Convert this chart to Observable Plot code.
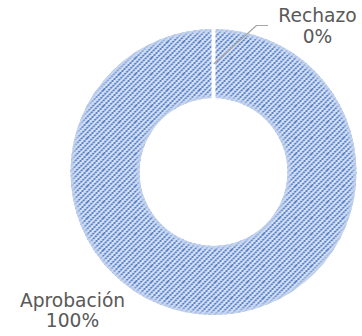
<!DOCTYPE html>
<html><head><meta charset="utf-8">
<script src="https://cdn.jsdelivr.net/npm/d3@7"></script>
<script src="https://cdn.jsdelivr.net/npm/@observablehq/plot@0.6"></script>
<style>html,body{margin:0;padding:0;background:#fff;}</style>
</head><body><div id="chart"></div>
<script>
// ---- data ----
const categories = ["Aprobación", "Rechazo"];
const values = [100, 0];
const percentLabels = ["100%", "0%"];

// ---- layout (pixels, origin at donut centre, y up) ----
const W = 362, H = 336;
const CX = 213.5, CY = 172;
const R_OUT = 143, R_IN = 74;
const labelLayout = { "Aprobación": [-141.5, -119.2], "Rechazo": [103.5, 164.9] };
const leaderLayout = { "Rechazo": { r: 109, elbow: [42.5, 147], end: [53.5, 147] } };

const pie = d3.pie().sort(null).value(d => d.value);
const slices = pie(categories.map((c, i) => ({ category: c, value: values[i], pct: percentLabels[i] })));

const labelData = slices.map(s => ({
  text: s.data.category + "\n" + s.data.pct,
  x: labelLayout[s.data.category][0],
  y: labelLayout[s.data.category][1]
}));

const leaderData = [];
slices.forEach(s => {
  const L = leaderLayout[s.data.category];
  if (!L) return;
  const a = (s.startAngle + s.endAngle) / 2;
  leaderData.push({ x: L.r * Math.sin(a), y: L.r * Math.cos(a) });
  leaderData.push({ x: L.elbow[0], y: L.elbow[1] });
  leaderData.push({ x: L.end[0], y: L.end[1] });
});

function donutMark(index, scales, vals, dimensions, context) {
  const cx = scales.x(0), cy = scales.y(0);
  const k = scales.x(1) - scales.x(0);
  const g = d3.create("svg:g");
  const defs = g.append("defs");
  const T = 16; // tile: 3 stripes, spacing 16/3
  const pat = defs.append("pattern").attr("id", "hatch")
    .attr("patternUnits", "userSpaceOnUse").attr("width", T).attr("height", T);
  pat.append("rect").attr("width", T).attr("height", T).attr("fill", "#d9e3f4");
  const sp = T / 3;
  for (let i = -1; i <= 7; i++) {
    const c = i * sp; // line x + y = c
    pat.append("path").attr("d", `M${c - T - 2},${T + 2} L${c + 2},${-2}`)
      .attr("stroke", "#4472c4").attr("stroke-width", 1.6);
  }
  for (let i = -2; i <= 6; i++) {
    const c = i * 4; // line x - y = c (breaks stripes into dots)
    pat.append("path").attr("d", `M${c - 2},${-2} L${c + T + 2},${T + 2}`)
      .attr("stroke", "#d9e3f4").attr("stroke-width", 0.9);
  }
  const blur = defs.append("filter").attr("id", "soft").attr("x", "-10%").attr("y", "-10%").attr("width", "120%").attr("height", "120%");
  blur.append("feGaussianBlur").attr("stdDeviation", 1.6);
  const arc = d3.arc().innerRadius(R_IN * k).outerRadius(R_OUT * k);
  const ringPath = arc({ startAngle: 0, endAngle: 2 * Math.PI });
  defs.append("clipPath").attr("id", "ringclip").append("path").attr("d", ringPath);
  const gg = g.append("g").attr("transform", `translate(${cx},${cy})`);
  gg.selectAll("path.fill").data(slices.filter(s => s.endAngle > s.startAngle)).join("path")
    .attr("class", "fill").attr("d", arc).attr("fill", "url(#hatch)");
  // soft edges
  gg.append("g").attr("clip-path", "url(#ringclip)")
    .append("path").attr("d", ringPath).attr("fill", "none")
    .attr("stroke", "#c3d3ee").attr("stroke-width", 6).attr("filter", "url(#soft)").attr("opacity", 0.9);
  // white slice borders
  gg.selectAll("path.border").data(slices.filter(s => s.endAngle - s.startAngle < 2 * Math.PI - 1e-6)).join("path")
    .attr("class", "border").attr("d", arc).attr("fill", "none")
    .attr("stroke", "#fff").attr("stroke-width", 4).attr("stroke-linejoin", "bevel");
  return g.node();
}

const chart = Plot.plot({
  width: W, height: H, margin: 0,
  x: { domain: [-CX, W - CX], range: [0, W], axis: null },
  y: { domain: [-(H - CY), CY], range: [H, 0], axis: null },
  style: { background: "#fff", overflow: "visible" },
  marks: [
    donutMark,
    Plot.line(leaderData, { x: "x", y: "y", stroke: "#a6a6a6", strokeWidth: 1.2 }),
    Plot.text(labelData, {
      x: "x", y: "y", text: "text", lineAnchor: "top", lineHeight: 1.12,
      fontSize: 18.67, fill: "#595959", fontFamily: "DejaVu Sans", textAnchor: "middle"
    })
  ]
});
document.getElementById("chart").append(chart);
</script>
</body></html>
